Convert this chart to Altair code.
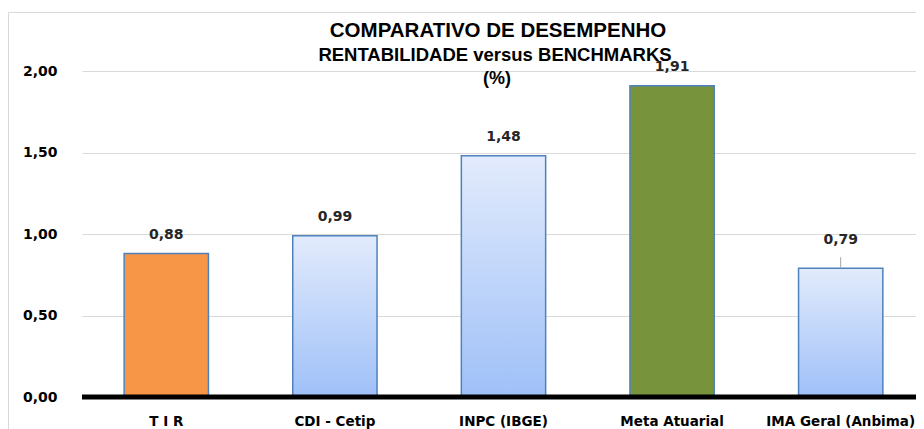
import altair as alt
import pandas as pd

categories = ["T I R", "CDI - Cetip", "INPC (IBGE)", "Meta Atuarial", "IMA Geral (Anbima)"]
values = [0.88, 0.99, 1.48, 1.91, 0.79]
highlighted = ["T I R", "Meta Atuarial"]
y_ticks = [0.0, 0.5, 1.0, 1.5, 2.0]
title_lines = ["COMPARATIVO DE DESEMPENHO", "RENTABILIDADE versus BENCHMARKS", "(%)"]

df = pd.DataFrame({
    "cat": categories,
    "value": values,
    "label": [f"{v:.2f}".replace(".", ",") for v in values],
})

W, H = 834, 326
BAND_SPAN = 843
PAD_L, PAD_T, PAD_B = 74, 63, 33
FONT = "Liberation Sans"
LFONT = "DejaVu Sans"
LEADER = 11 / 163  # leader line length in value units

xenc = alt.X("cat:N", sort=categories,
             scale=alt.Scale(paddingInner=0.5, paddingOuter=0.25, range=[0, BAND_SPAN]),
             axis=alt.Axis(title=None, labelAngle=0, ticks=False, domain=False,
                           labelPadding=17, labelFontSize=13.5, labelFont=LFONT,
                           labelFontWeight="bold", labelColor="#000000"))
yenc = alt.Y("value:Q", scale=alt.Scale(domain=[0, 2]),
             axis=alt.Axis(title=None, values=y_ticks, ticks=False, domain=False,
                           labelExpr="replace(format(datum.value, '.2f'), '.', ',')",
                           labelPadding=25, labelFontSize=14, labelFont=LFONT,
                           labelFontWeight="bold", labelColor="#000000",
                           gridColor="#d9d9d9", gridWidth=1))

base = alt.Chart(df)

gradient = alt.Gradient(
    gradient="linear",
    stops=[alt.GradientStop(color="#e2ebfc", offset=0),
           alt.GradientStop(color="#9fc0f8", offset=1)],
    x1=0, x2=0, y1=0, y2=1,
)

bars_grad = base.transform_filter(
    alt.FieldOneOfPredicate(field="cat", oneOf=[c for c in categories if c not in highlighted])
).mark_bar(fill=gradient, stroke="#4f81bd", strokeWidth=1.5).encode(x=xenc, y=yenc)

bars_solid = base.transform_filter(
    alt.FieldOneOfPredicate(field="cat", oneOf=highlighted)
).mark_bar(stroke="#4f81bd", strokeWidth=1.5).encode(
    x=xenc, y=yenc,
    fill=alt.Fill("cat:N", scale=alt.Scale(domain=highlighted, range=["#f79646", "#77933c"]),
                  legend=None),
)

labels_main = base.transform_filter(
    alt.FieldOneOfPredicate(field="cat", oneOf=categories[:4])
).mark_text(baseline="bottom", dy=-12, fontSize=14, font=LFONT, fontWeight="bold",
            color="#262626").encode(x=xenc, y=yenc, text="label:N")

labels_last = base.transform_filter(
    alt.FieldOneOfPredicate(field="cat", oneOf=categories[4:])
).mark_text(baseline="bottom", dy=-21, fontSize=14, font=LFONT, fontWeight="bold",
            color="#262626").encode(x=xenc, y=yenc, text="label:N")

leader = base.transform_filter(
    alt.FieldOneOfPredicate(field="cat", oneOf=categories[4:])
).transform_calculate(top=f"datum.value + {LEADER}").mark_rule(
    color="#a6a6a6", strokeWidth=1
).encode(x=xenc, y=yenc, y2="top:Q")

zero = alt.Chart(pd.DataFrame({"z": [0]})).mark_rule(color="#000000", strokeWidth=5).encode(
    y=alt.Y("z:Q", scale=alt.Scale(domain=[0, 2]))
)

tdf = pd.DataFrame({"t": [0]})
title1 = alt.Chart(tdf).mark_text(text=title_lines[0], fontSize=20.5, font=FONT, fontWeight="bold",
                                  color="#000000", baseline="alphabetic").encode(
    x=alt.value(416), y=alt.value(-34))
title2 = alt.Chart(tdf).mark_text(text=title_lines[1], fontSize=18.5, font=FONT, fontWeight="bold",
                                  color="#000000", baseline="alphabetic").encode(
    x=alt.value(413), y=alt.value(-10))
title3 = alt.Chart(tdf).mark_text(text=title_lines[2], fontSize=18, font=FONT, fontWeight="bold",
                                  color="#000000", baseline="alphabetic").encode(
    x=alt.value(415), y=alt.value(13))

border_top = alt.Chart(tdf).mark_rule(color="#d9d9d9", strokeWidth=1).encode(
    x=alt.value(-73.5), x2=alt.value(W), y=alt.value(-58.5))
border_left = alt.Chart(tdf).mark_rule(color="#d9d9d9", strokeWidth=1).encode(
    x=alt.value(-73.5), y=alt.value(-58.5), y2=alt.value(H + 40))

chart = alt.layer(
    border_top, border_left,
    bars_grad, bars_solid, zero, leader, labels_main, labels_last,
    title1, title2, title3,
).properties(
    width=W, height=H,
    padding={"left": PAD_L, "top": PAD_T, "right": 0, "bottom": PAD_B},
    autosize=alt.AutoSizeParams(type="none"),
    background="#ffffff",
).configure_view(stroke=None)

chart.save("out.html", embed_options={"renderer": "svg", "actions": False})
